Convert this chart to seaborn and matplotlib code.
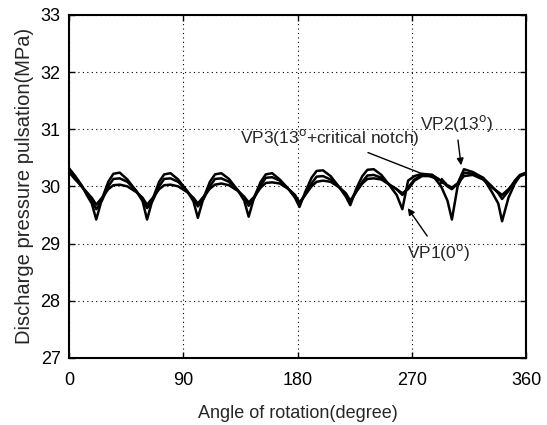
import matplotlib
matplotlib.use("Agg")
import matplotlib.pyplot as plt
import numpy as np
import pandas as pd
import seaborn as sns

# angle of rotation (degree)
angle = [0, 5, 10, 14, 18, 21.5,
         26, 31, 35, 40, 46, 53, 58, 61.5,
         66, 71, 75, 80, 86, 93, 98, 101.5,
         106, 111, 115, 120, 126, 133, 138, 141.5,
         146, 151, 155, 160, 166, 173, 178, 181.5,
         186, 191, 195, 200, 206, 213, 218, 221.5,
         226, 231, 235, 240, 246, 253, 258, 262.5,
         267, 272, 278, 286, 293, 298, 301.5,
         306, 311, 318, 326, 333, 338, 341,
         346, 351, 355, 360]

# discharge pressure (MPa)
vp1 = [30.32, 30.18, 30.02, 29.85, 29.70, 29.42,
       29.78, 30.08, 30.22, 30.24, 30.12, 29.92, 29.74, 29.42,
       29.78, 30.08, 30.21, 30.23, 30.12, 29.92, 29.74, 29.45,
       29.80, 30.08, 30.21, 30.23, 30.13, 29.93, 29.75, 29.47,
       29.82, 30.08, 30.21, 30.23, 30.12, 29.95, 29.80, 29.64,
       29.90, 30.15, 30.27, 30.28, 30.18, 29.98, 29.82, 29.67,
       29.95, 30.18, 30.29, 30.30, 30.20, 30.00, 29.85, 29.60,
       30.10, 30.18, 30.22, 30.20, 30.00, 29.75, 29.42,
       30.00, 30.24, 30.22, 30.15, 29.90, 29.70, 29.39,
       29.80, 30.05, 30.18, 30.24]
vp2 = [30.30, 30.15, 30.00, 29.88, 29.75, 29.60,
       29.75, 30.00, 30.13, 30.14, 30.08, 29.92, 29.78, 29.62,
       29.75, 30.00, 30.13, 30.14, 30.08, 29.92, 29.78, 29.65,
       29.78, 30.00, 30.13, 30.14, 30.08, 29.93, 29.80, 29.66,
       29.80, 30.02, 30.15, 30.16, 30.10, 29.95, 29.82, 29.70,
       29.85, 30.05, 30.17, 30.18, 30.12, 29.98, 29.85, 29.72,
       29.90, 30.08, 30.19, 30.20, 30.15, 30.02, 29.95, 29.85,
       29.98, 30.12, 30.20, 30.20, 30.10, 30.00, 29.95,
       30.05, 30.30, 30.25, 30.15, 30.00, 29.88, 29.78,
       29.92, 30.10, 30.20, 30.24]
vp3 = [30.25, 30.12, 30.00, 29.90, 29.80, 29.68,
       29.80, 29.95, 30.02, 30.03, 30.00, 29.90, 29.80, 29.68,
       29.80, 29.95, 30.02, 30.03, 30.00, 29.90, 29.80, 29.70,
       29.82, 29.96, 30.03, 30.05, 30.02, 29.92, 29.82, 29.72,
       29.82, 29.98, 30.06, 30.07, 30.05, 29.95, 29.85, 29.72,
       29.85, 30.00, 30.08, 30.10, 30.08, 29.98, 29.88, 29.75,
       29.90, 30.05, 30.13, 30.14, 30.12, 30.02, 29.95, 29.88,
       29.95, 30.10, 30.18, 30.18, 30.10, 30.02, 29.98,
       30.05, 30.18, 30.20, 30.12, 29.98, 29.90, 29.85,
       29.95, 30.08, 30.18, 30.22]

x_ticks = [0, 90, 180, 270, 360]
y_ticks = [27, 28, 29, 30, 31, 32, 33]

df = pd.DataFrame({
    "angle": angle * 3,
    "pressure": vp1 + vp2 + vp3,
    "case": ["VP1"] * len(angle) + ["VP2"] * len(angle) + ["VP3"] * len(angle),
})

sns.set_style("ticks")
plt.rcParams["font.family"] = ["Liberation Sans", "DejaVu Sans"]

fig = plt.figure(figsize=(5.47, 4.25), dpi=100)
ax = fig.add_axes([0.126, 0.158, 0.836, 0.807])

sns.lineplot(data=df, x="angle", y="pressure", units="case", estimator=None,
             color="black", linewidth=1.8, ax=ax, legend=False)

ax.set_xlim(0, 360)
ax.set_ylim(27, 33)
ax.set_xticks(x_ticks)
ax.set_yticks(y_ticks)
ax.grid(True, color="black", linestyle=(0, (1, 3)), linewidth=0.8)
for s in ax.spines.values():
    s.set_color("black")
    s.set_linewidth(1.5)
ax.tick_params(direction="in", length=4, width=1, top=True, right=True,
               labelsize=13, colors="black")
ax.tick_params(axis="x", pad=10)
ax.tick_params(axis="y", pad=6)

ax.set_xlabel("Angle of rotation(degree)", fontsize=13, labelpad=12)
ax.set_ylabel("Discharge pressure pulsation(MPa)", fontsize=14.5, labelpad=5)

arrow = dict(arrowstyle="-|>", color="black", lw=1.0, mutation_scale=10)
ax.annotate("VP3(13$^{\\mathrm{o}}$+critical notch)", xy=(300, 30.03), xytext=(135, 30.85),
            fontsize=12.5, va="center", ha="left", arrowprops=arrow)
ax.annotate("VP2(13$^{\\mathrm{o}}$)", xy=(309, 30.32), xytext=(276, 31.1),
            fontsize=12.5, va="center", ha="left", arrowprops=arrow)
ax.annotate("VP1(0$^{\\mathrm{o}}$)", xy=(265.5, 29.66), xytext=(266, 28.85),
            fontsize=12.5, va="center", ha="left", arrowprops=arrow)

fig.savefig("out.png", dpi=100)
